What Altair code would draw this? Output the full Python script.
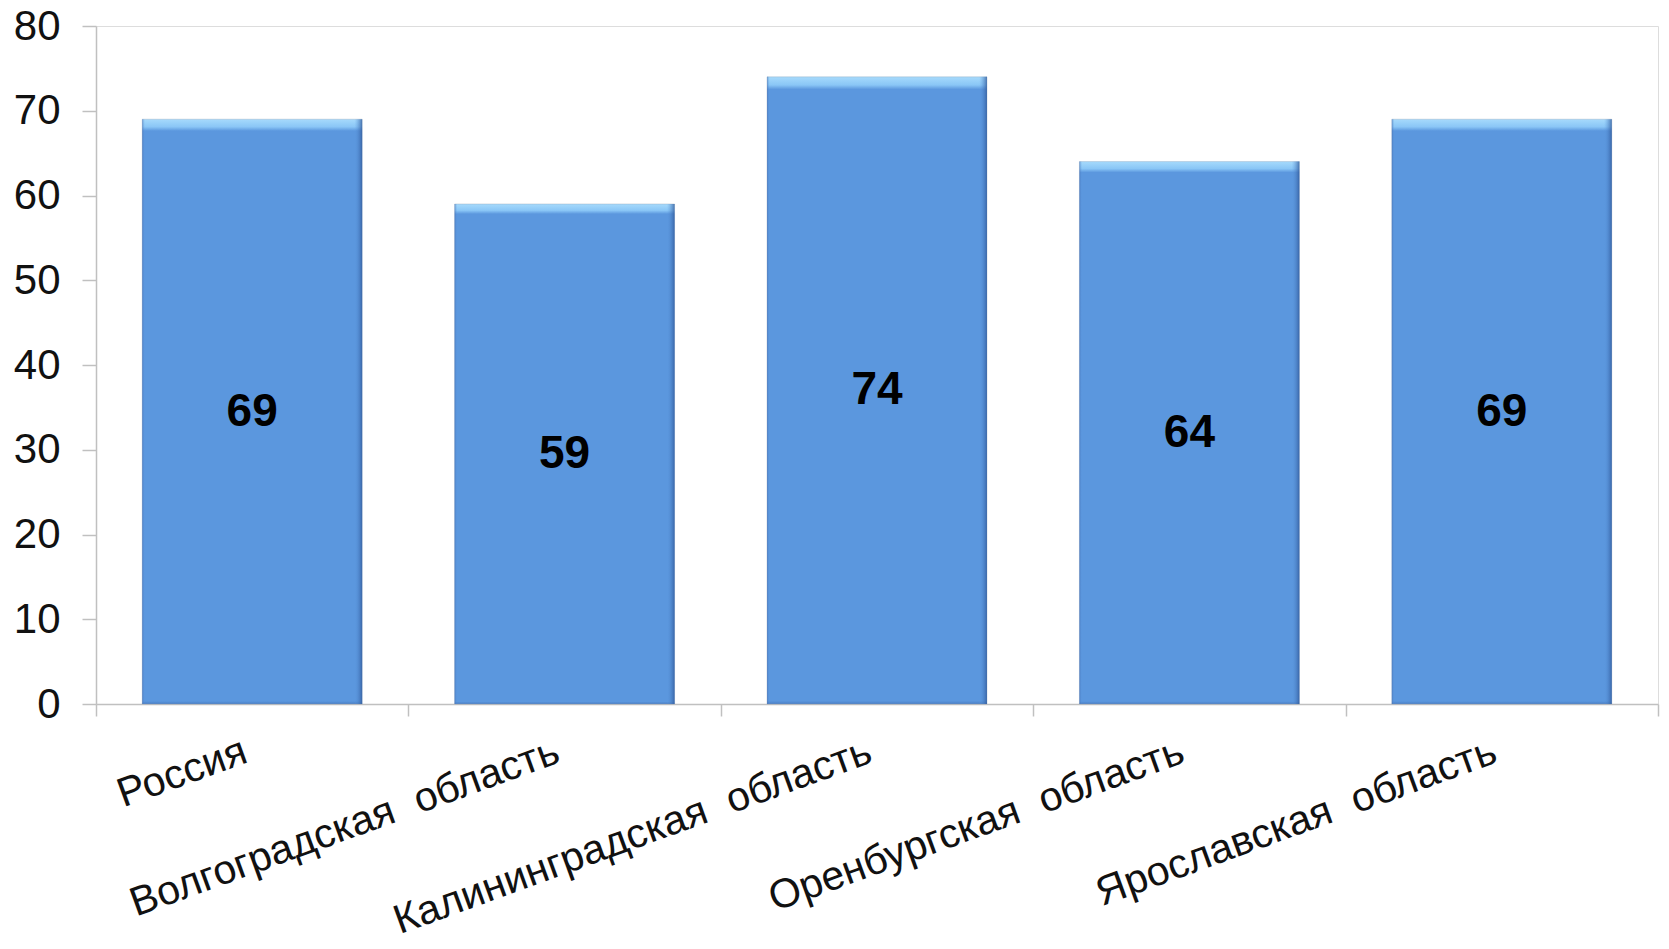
import altair as alt
import pandas as pd

# Regions and their values
regions = [
    "Россия",
    "Волгоградская\u00a0 область",
    "Калининградская\u00a0 область",
    "Оренбургская\u00a0 область",
    "Ярославская\u00a0 область",
]
values = [69, 59, 74, 64, 69]

df = pd.DataFrame({"region": regions, "value": values})

FONT = "Liberation Sans"
BAR = "#5b97de"
BAR_BAND = 0.704

x_enc = alt.X(
    "region:N",
    sort=regions,
    title=None,
    scale=alt.Scale(paddingInner=0, paddingOuter=0),
    axis=alt.Axis(
        labelAngle=-20,
        labelAlign="right",
        labelBaseline="top",
        labelFont=FONT,
        labelFontSize=41,
        labelColor="#111111",
        labelPadding=15,
        labelOffset=-14,
        tickBand="extent",
        tickSize=12,
        tickColor="#c0c0c0",
        domainColor="#c0c0c0",
        domainWidth=1.5,
        tickWidth=1.5,
        labelOverlap=False,
        labelLimit=0,
    ),
)
y_enc = alt.Y(
    "value:Q",
    title=None,
    scale=alt.Scale(domain=[0, 80], nice=False),
    axis=alt.Axis(
        values=list(range(0, 81, 10)),
        grid=False,
        tickSize=14,
        tickColor="#c0c0c0",
        domainColor="#c0c0c0",
        domainWidth=1.5,
        tickWidth=1.5,
        labelFont=FONT,
        labelFontSize=42,
        labelColor="#111111",
        labelPadding=22,
    ),
)

base = alt.Chart(df).encode(x=x_enc)

# Main bar body with a light bevel strip along the top
body = base.mark_bar(
    width={"band": BAR_BAND},
    fill=alt.Gradient(
        gradient="linear",
        x1=0, y1=0, x2=0, y2=1,
        stops=[
            alt.GradientStop(offset=0, color="#a6dafc"),
            alt.GradientStop(offset=0.013, color="#8ac6f6"),
            alt.GradientStop(offset=0.02, color=BAR),
            alt.GradientStop(offset=0.995, color=BAR),
            alt.GradientStop(offset=1, color="#4a7fc6"),
        ],
    ),
    stroke="#8a9db5",
    strokeOpacity=0.35,
    strokeWidth=1,
).encode(y=y_enc)

# Darker side edges
sides = base.mark_bar(
    width={"band": BAR_BAND},
    fill=alt.Gradient(
        gradient="linear",
        x1=0, y1=0, x2=1, y2=0,
        stops=[
            alt.GradientStop(offset=0, color="rgba(60,100,170,0.55)"),
            alt.GradientStop(offset=0.012, color="rgba(91,151,222,0)"),
            alt.GradientStop(offset=0.965, color="rgba(91,151,222,0)"),
            alt.GradientStop(offset=1, color="rgba(45,85,150,0.75)"),
        ],
    ),
).encode(y="value:Q")

# Value labels at mid-height of each bar
labels = base.transform_calculate(mid="datum.value / 2").mark_text(
    font=FONT,
    fontSize=46,
    fontWeight="bold",
    color="#000000",
    baseline="middle",
    align="center",
).encode(y="mid:Q", text="value:Q")

chart = (
    alt.layer(body, sides, labels)
    .properties(
        width=1562,
        height=678,
        autosize=alt.AutoSizeParams(type="none"),
        padding={"left": 96, "top": 26, "right": 11, "bottom": 245},
    )
    .configure_view(stroke=None)
    .configure(background="white")
)

chart.save("out.html", embed_options={"renderer": "svg", "actions": False})
